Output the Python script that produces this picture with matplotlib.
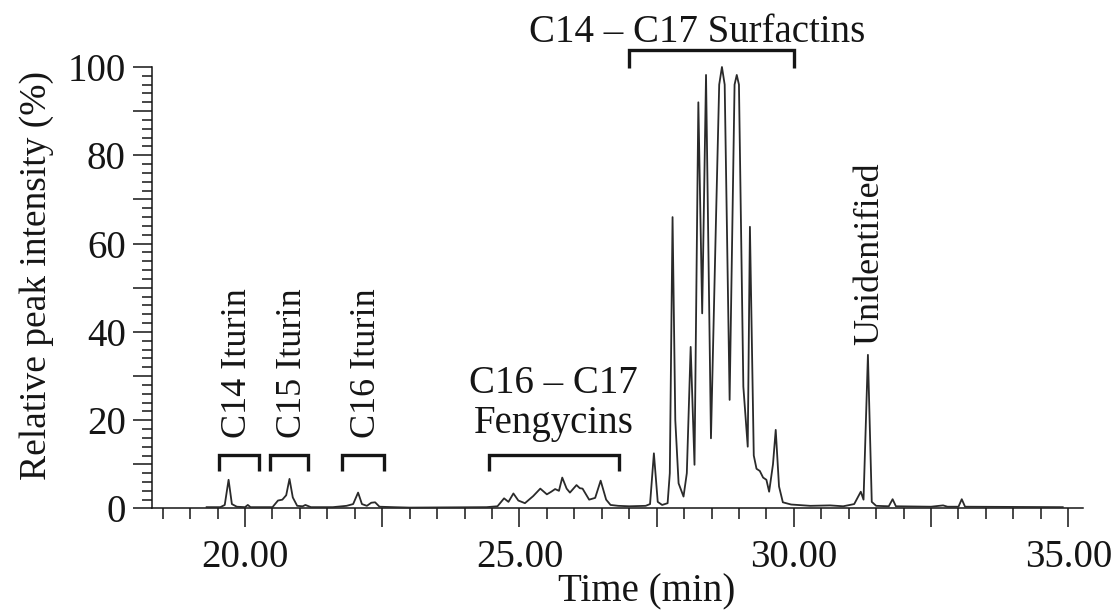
import numpy as np
import matplotlib
matplotlib.use("Agg")
import matplotlib.pyplot as plt
from matplotlib.ticker import MultipleLocator, FuncFormatter

# ---- data ----
time_min = [19.30, 19.55, 19.63, 19.70, 19.76, 19.85, 20.00, 20.05, 20.10,
            20.50, 20.60, 20.68, 20.75, 20.81, 20.87, 20.95, 21.05, 21.10, 21.20,
            21.60, 21.85, 21.97, 22.06, 22.13, 22.22, 22.30, 22.37, 22.45, 22.70,
            23.00, 24.40, 24.60, 24.72, 24.80, 24.89, 24.98, 25.10, 25.25, 25.38,
            25.50, 25.58, 25.65, 25.72, 25.78, 25.86, 25.92, 26.04, 26.10, 26.15,
            26.27, 26.38, 26.48, 26.58, 26.66, 26.80, 27.00, 27.30, 27.38, 27.45,
            27.52, 27.60, 27.70, 27.74, 27.79, 27.84, 27.90, 27.99, 28.05, 28.12,
            28.19, 28.26, 28.33, 28.40, 28.49, 28.58, 28.64, 28.69, 28.74, 28.83,
            28.92, 28.96, 29.00, 29.08, 29.16, 29.20, 29.27, 29.32, 29.38, 29.44,
            29.50, 29.55, 29.62, 29.67, 29.73, 29.80, 29.95, 30.30, 30.66, 30.90,
            31.10, 31.22, 31.27, 31.35, 31.42, 31.50, 31.73, 31.80, 31.86, 32.50,
            32.72, 32.80, 33.00, 33.06, 33.12, 34.90]
intensity = [0.3, 0.3, 0.8, 6.5, 1.0, 0.4, 0.3, 0.8, 0.3,
             0.3, 1.8, 2.0, 3.0, 6.7, 2.5, 0.6, 0.5, 0.8, 0.3,
             0.3, 0.6, 1.0, 3.6, 1.0, 0.6, 1.3, 1.4, 0.4, 0.3,
             0.2, 0.3, 0.5, 2.3, 1.5, 3.4, 1.8, 1.2, 2.8, 4.5,
             3.2, 3.8, 4.4, 4.0, 7.0, 4.5, 3.6, 5.3, 4.6, 4.5,
             2.0, 2.4, 6.3, 2.0, 0.8, 0.6, 0.5, 0.6, 1.0, 12.5,
             1.5, 0.8, 1.2, 8.0, 66.0, 20.0, 5.7, 2.7, 8.0, 36.6,
             9.9, 92.0, 44.2, 98.2, 15.9, 64.6, 96.0, 100.0, 96.0, 24.6,
             96.0, 98.2, 96.0, 27.6, 14.0, 63.8, 12.0, 9.0, 8.5, 7.0,
             6.5, 3.8, 10.0, 17.8, 5.0, 1.4, 0.9, 0.6, 0.7, 0.5,
             1.0, 3.8, 2.0, 34.8, 1.5, 0.6, 0.5, 2.1, 0.5, 0.4,
             0.7, 0.4, 0.4, 2.1, 0.4, 0.3]

# compound groups (retention-time ranges)
group_start = [19.53, 20.46, 21.77, 24.45]
group_end = [20.26, 21.15, 22.53, 26.81]
surfactin_range = [27.0, 30.0]

iturin_labels = ["C14 Iturin", "C15 Iturin", "C16 Iturin"]
iturin_label_t = [19.87, 20.86, 22.22]
unid_label = "Unidentified"
unid_label_t = 31.39

x_tick_labels = ["20.00", "25.00", "30.00", "35.00"]
x_tick_vals = [20, 25, 30, 35]

# ---- figure ----
plt.rcParams['font.family'] = ['Liberation Serif', 'DejaVu Serif']
INK = '#151515'

fig = plt.figure(figsize=(11.17, 6.13), dpi=100)
ax = fig.add_axes([0.1361, 0.1705, 0.8335, 0.7202])

ax.plot(time_min, intensity, color='#2a2a2a', lw=1.3, clip_on=False, zorder=3,
        solid_joinstyle='round')

ax.set_xlim(18.305, 35.27)
ax.set_ylim(0, 100)

for s in ['top', 'right']:
    ax.spines[s].set_visible(False)
for s in ['left', 'bottom']:
    ax.spines[s].set_linewidth(1.1)
    ax.spines[s].set_color(INK)


def xfmt(v, p):
    for k, lab in zip(x_tick_vals, x_tick_labels):
        if abs(v - k) < 1e-6:
            return lab
    return ""


ax.xaxis.set_major_locator(MultipleLocator(2.5))
ax.xaxis.set_minor_locator(MultipleLocator(0.5))
ax.xaxis.set_major_formatter(FuncFormatter(xfmt))
ax.yaxis.set_major_locator(MultipleLocator(10))
ax.yaxis.set_minor_locator(MultipleLocator(2))
ax.yaxis.set_major_formatter(FuncFormatter(
    lambda v, p: f"{int(round(v))}" if int(round(v)) % 20 == 0 else ""))

ax.tick_params(axis='both', which='both', direction='out', color=INK, width=1.1,
               labelcolor=INK, labelsize=28)
ax.tick_params(axis='x', which='major', length=14, pad=8)
ax.tick_params(axis='x', which='minor', length=8)
ax.tick_params(axis='y', which='major', length=14, pad=5)
ax.tick_params(axis='y', which='minor', length=7)

# y label and x label
fig.text(37 / 1117, 1 - 275 / 613, "Relative peak intensity (%)", rotation=90,
         ha='center', va='center', fontsize=27, color=INK)
fig.text(647 / 1117, 1 - 601 / 613, "Time (min)", ha='center', va='baseline',
         fontsize=28, color=INK)

# brackets
blw = 2.4
for a, b in zip(group_start, group_end):
    ax.plot([a, a, b, b], [8.5, 12.1, 12.1, 8.5], color=INK, lw=blw,
            solid_joinstyle='miter', solid_capstyle='butt', clip_on=False)
ax.plot([surfactin_range[0], surfactin_range[0], surfactin_range[1], surfactin_range[1]],
        [99.8, 103.8, 103.8, 99.8], color=INK, lw=blw,
        solid_joinstyle='miter', solid_capstyle='butt', clip_on=False)

# annotation texts
for lab, t in zip(iturin_labels, iturin_label_t):
    ax.text(t, 16.0, lab, rotation=90, ha='center', va='bottom', fontsize=26,
            color=INK, clip_on=False)
ax.text(unid_label_t, 37.0, unid_label, rotation=90, ha='center', va='bottom',
        fontsize=26, color=INK, clip_on=False)
ax.text(25.62, 26.2, "C16 – C17", ha='center', va='baseline', fontsize=28, color=INK)
ax.text(25.62, 17.1, "Fengycins", ha='center', va='baseline', fontsize=28, color=INK)
ax.text(28.245, 105.7, "C14 – C17 Surfactins", ha='center', va='baseline',
        fontsize=28, color=INK, clip_on=False)

fig.savefig("out.png", dpi=100)
